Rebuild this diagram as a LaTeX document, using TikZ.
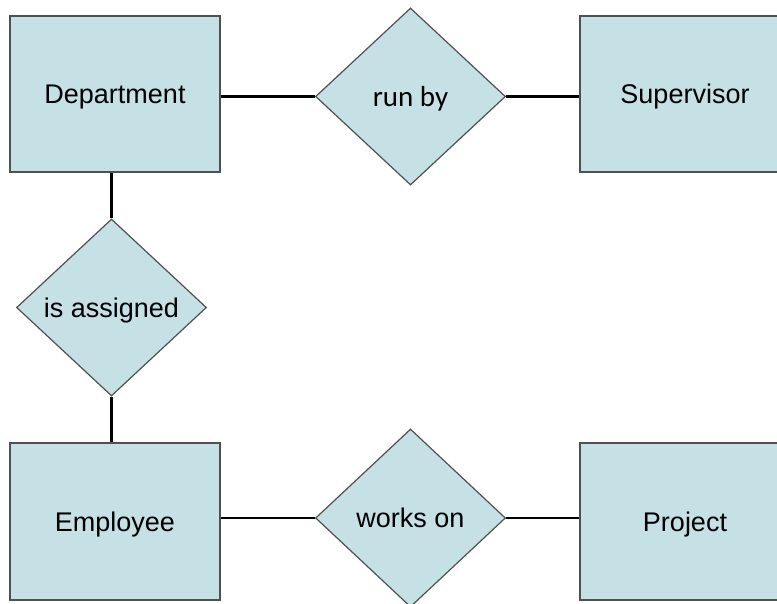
\documentclass[tikz,border=0pt]{standalone}
\usepackage{fontspec}
\setmainfont{Liberation Sans}
\newfontfamily\relfont{Carlito}
\usetikzlibrary{shapes.geometric}
\definecolor{erfill}{RGB}{197,225,229}
\definecolor{erline}{RGB}{80,80,80}
\tikzset{
  entity/.style={draw=erline, line width=1.2pt, fill=erfill, rectangle,
    minimum width=210pt, minimum height=156pt, inner sep=0pt,
    font=\fontsize{27pt}{30pt}\selectfont, text height=19.5pt, text depth=0pt},
  relation/.style={draw=erline, line width=1.2pt, fill=erfill, diamond,
    minimum width=190pt, minimum height=177pt, inner sep=0pt,
    font=\fontsize{27pt}{30pt}\selectfont, text height=19.5pt, text depth=0pt},
  link/.style={line width=2.7pt, black}
}
\begin{document}
\begin{tikzpicture}[x=1pt,y=-1pt]
  \useasboundingbox (0,0) rectangle (777,603);
  \clip (0,0) rectangle (777,603);
  \fill[white] (0,0) rectangle (777,603);

  % entities
  \node[entity] (dep) at (115,94) {Department};
  \node[entity] (sup) at (685,94) {Supervisor};
  \node[entity, minimum height=157pt] (emp) at (115,521.5) {Employee};
  \node[entity, minimum height=157pt] (proj) at (685,521.5) {Project};

  % relationships
  \node[relation, font=\relfont\fontsize{29pt}{32pt}\selectfont] (runby) at (410.5,96.5) {run by};
  \node[relation] (assigned) at (111.5,307.5) {is assigned};
  \node[relation, minimum height=178pt] (works) at (410.5,518) {works on};

  % connectors
  \draw[link] (runby.west) -- (runby.west -| dep.east);
  \draw[link] (runby.east) -- (runby.east -| sup.west);
  \draw[link] (assigned.north) -- (assigned.north |- dep.south);
  \draw[link] (assigned.south) -- (assigned.south |- emp.north);
  \draw[link] (works.west) -- (works.west -| emp.east);
  \draw[link] (works.east) -- (works.east -| proj.west);
\end{tikzpicture}
\end{document}
